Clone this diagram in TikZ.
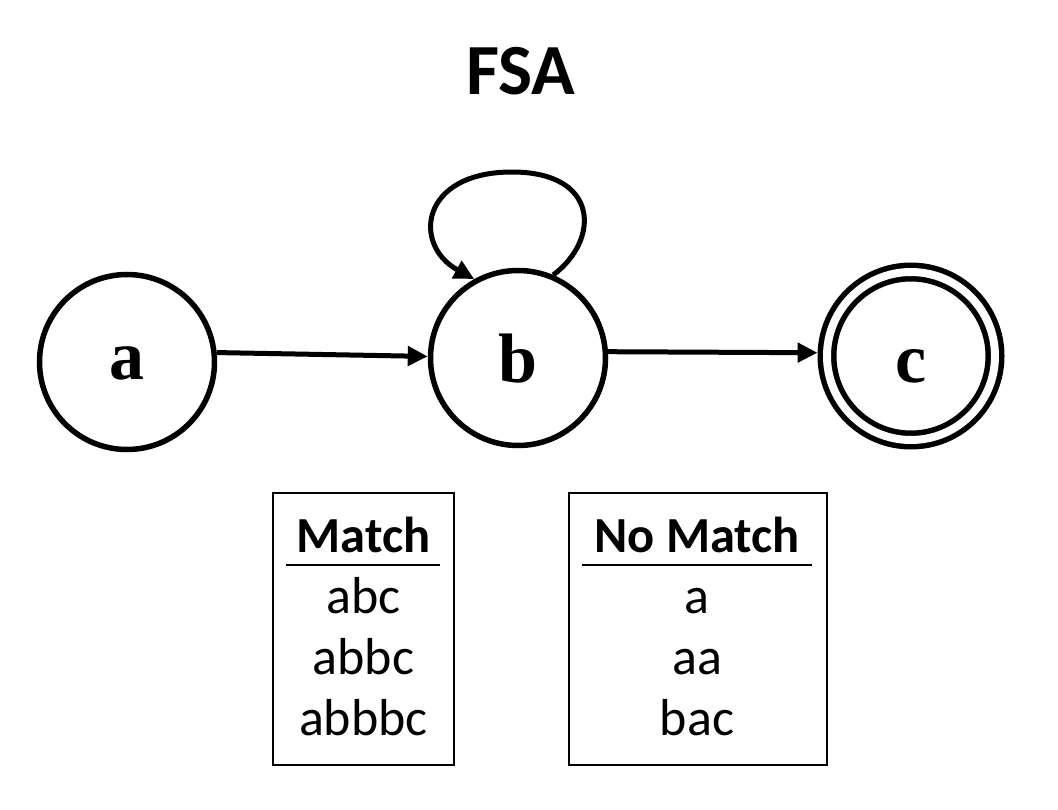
\documentclass[tikz,border=0pt]{standalone}
\usepackage{fontspec}
\setmainfont{Carlito}
\newfontfamily\statefont{Liberation Serif}
\usetikzlibrary{arrows.meta}
\begin{document}
\begin{tikzpicture}[x=1pt,y=-1pt,
  state/.style={circle,draw,line width=5.5pt,minimum size=175pt,inner sep=0pt,text depth=0pt,
    font=\statefont\bfseries\fontsize{70}{70}\selectfont},
  edge/.style={line width=5pt,-{Triangle[length=20pt,width=19pt]}},
  listbox/.style={draw,line width=2pt,minimum height=272pt,inner sep=0pt},
  txt/.style={anchor=base,inner sep=0pt,font=\fontsize{52}{52}\selectfont},
  hdr/.style={anchor=base,inner sep=0pt,font=\bfseries\fontsize{50.5}{50.5}\selectfont},
  rule/.style={line width=2pt}]
\useasboundingbox (0,0) rectangle (1058,810);
\node[anchor=base,inner sep=0pt,font=\bfseries\fontsize{72}{72}\selectfont] (title) at (521,95) {FSA};
\node[state,text height=36pt] (a) at (127,362) {a};
\node[state,text height=50pt] (b) at (518,358) {b};
\node[state,text height=54pt,minimum size=168pt,double,double distance=8pt,outer sep=9.5pt] (c) at (911,356) {c};
\draw[edge] (a.6) -- (b.179);
\draw[edge] (b.4) -- (c.178);
\draw[edge] (b.67) .. controls (600,240) and (600,172) .. (512,172)
  .. controls (420,172) and (412,245) .. (b.119);
% Match box
\node[listbox,minimum width=181pt] (mbox) at (363.5,629) {};
\node[hdr] (mhdr) at (363.5,552) {Match};
\draw[rule] (286,565) -- (440,565);
\node[txt] (m1) at (363.5,613) {abc};
\node[txt] (m2) at (363.5,674) {abbc};
\node[txt] (m3) at (363.5,735) {abbbc};
% No Match box
\node[listbox,minimum width=258pt] (nbox) at (698,629) {};
\node[hdr] (nhdr) at (697,552) {No Match};
\draw[rule] (582,565) -- (812,565);
\node[txt] (n1) at (697,613) {a};
\node[txt] (n2) at (697,674) {aa};
\node[txt] (n3) at (697,735) {bac};
\end{tikzpicture}
\end{document}
